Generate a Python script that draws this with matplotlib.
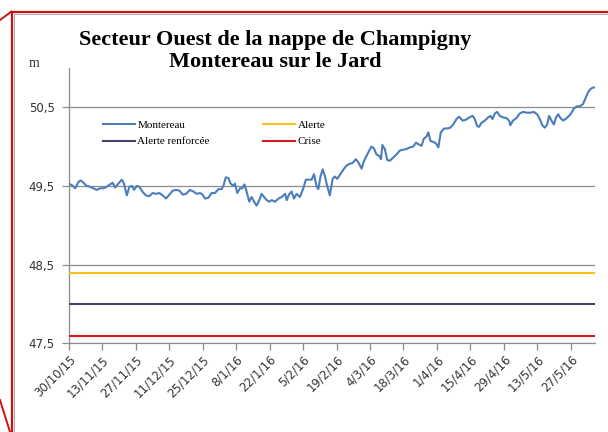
import pandas as pd
import matplotlib
matplotlib.use("Agg")
import matplotlib.pyplot as plt
from matplotlib.lines import Line2D

# niveaux relevés (jours depuis le 30/10/15, m NGF)
date_debut = "2015-10-30"
jours = [0, 1.3, 2.7, 4.1, 5.0, 6.2, 7.5, 8.9, 10.3, 11.7, 13.1, 14.5, 15.9, 17.3, 18.4, 19.4,
         20.8, 22.2, 23.1, 24.3, 25.4, 26.4, 27.3, 28.5, 29.5, 31.0, 32.3, 33.7, 35.1, 36.5,
         37.9, 39.3, 40.7, 42.1, 43.5, 44.9, 46.3, 47.7, 49.1,
         50.7, 52.1, 53.5, 54.9, 56.0, 57.0, 58.4, 59.8, 61.2, 62.6, 64.0, 64.7, 65.7, 66.8,
         67.7, 68.9, 69.5, 70.5, 71.6, 72.6, 73.5, 74.4, 75.5, 76.5, 77.5, 78.6, 79.7, 80.7,
         81.7, 82.8, 83.9, 84.9, 86.3, 87.7, 89.1, 90.5, 91.2, 92.1, 93.2, 94.2, 95.3, 96.7,
         98.1, 99.2, 100.5, 101.6, 102.6, 103.7, 104.4,
         105.3, 106.2, 107.1, 108.1, 109.2, 110.4, 111.3, 112.3, 113.4, 114.5, 115.9, 117.3,
         118.7, 120.1, 121.1, 122.5, 123.4, 124.5, 125.7, 126.6, 127.6, 128.7, 129.9, 130.6,
         131.2, 132.2, 133.2, 134.3, 135.7, 137.1, 138.5, 139.9, 141.3, 142.7, 144.1, 145.2,
         146.2, 147.6, 148.5, 149.7, 150.4, 151.3, 152.5, 153.6, 154.6, 155.6, 157.0, 158.4,
         159.6, 160.8, 162.2, 163.3, 164.7, 166.1, 167.5, 168.9, 169.8, 170.8, 171.6, 172.6,
         174.0, 175.4, 176.4, 177.2, 178.2, 179.2, 180.3, 181.7, 183.1, 184.2, 184.7, 185.8,
         187.2, 188.6, 190.0, 191.7, 193.1, 194.5, 195.9, 197.0, 198.1, 199.1, 200.1, 200.9,
         201.9, 202.9, 203.8, 204.7, 205.7, 206.8, 208.2, 209.6, 210.3, 211.2, 212.4, 213.7,
         215.1, 216.2, 217.2, 218.2, 219.3, 220.2]
montereau = [49.53, 49.51, 49.47, 49.55, 49.57, 49.54, 49.50, 49.49, 49.47, 49.45, 49.47, 49.47,
             49.49, 49.52, 49.54, 49.48, 49.53, 49.58, 49.53, 49.38, 49.49, 49.50, 49.45, 49.50,
             49.49, 49.42, 49.38, 49.37, 49.41, 49.40, 49.41, 49.38, 49.34, 49.39, 49.44, 49.45,
             49.44, 49.39, 49.40,
             49.45, 49.43, 49.40, 49.41, 49.39, 49.34, 49.35, 49.41, 49.41, 49.46, 49.46, 49.50,
             49.61, 49.60, 49.53, 49.50, 49.53, 49.41, 49.47, 49.47, 49.52, 49.43, 49.30, 49.36,
             49.30, 49.25, 49.32, 49.40, 49.36, 49.32, 49.30, 49.32, 49.30, 49.34, 49.36, 49.40,
             49.32, 49.39, 49.43, 49.34, 49.40, 49.36, 49.47, 49.58, 49.58, 49.58, 49.65, 49.49,
             49.46,
             49.62, 49.71, 49.63, 49.50, 49.38, 49.59, 49.62, 49.59, 49.64, 49.69, 49.75, 49.78,
             49.79, 49.84, 49.80, 49.72, 49.81, 49.88, 49.95, 50.00, 49.98, 49.90, 49.88, 49.84,
             50.02, 49.97, 49.83, 49.82, 49.86, 49.90, 49.95, 49.96, 49.97, 49.99, 50.00, 50.05,
             50.03, 50.01, 50.10, 50.13, 50.18, 50.07, 50.06, 50.04, 49.99, 50.18, 50.23, 50.23,
             50.24, 50.28, 50.35, 50.38, 50.33, 50.34, 50.37, 50.39, 50.35, 50.26, 50.25, 50.30,
             50.33, 50.37, 50.39, 50.35, 50.42, 50.44, 50.39, 50.37, 50.36, 50.33, 50.27, 50.33,
             50.36, 50.42, 50.44, 50.43, 50.43, 50.44, 50.41, 50.35, 50.27, 50.24, 50.28, 50.39,
             50.33, 50.28, 50.37, 50.41, 50.36, 50.33, 50.36, 50.40, 50.43, 50.48, 50.51, 50.51,
             50.54, 50.62, 50.69, 50.73, 50.75, 50.75]

seuils = [48.4, 48.0, 47.6]
noms_seuils = ["Alerte", "Alerte renforcée", "Crise"]
couleurs_seuils = ["#F5C21B", "#4B3D70", "#D7191C"]

etiquettes_x = ["30/10/15", "13/11/15", "27/11/15", "11/12/15", "25/12/15", "8/1/16", "22/1/16",
                "5/2/16", "19/2/16", "4/3/16", "18/3/16", "1/4/16", "15/4/16", "29/4/16",
                "13/5/16", "27/5/16"]
ticks_y = [47.5, 48.5, 49.5, 50.5]

dates = pd.Timestamp(date_debut) + pd.to_timedelta(jours, unit="D")
dates_ticks = pd.to_datetime(etiquettes_x, format="%d/%m/%y")

fig = plt.figure(figsize=(6.08, 4.32), dpi=100)
ax = fig.add_axes([0.113, 0.205, 0.866, 0.638])

gris = "#8C8C8C"
for y in ticks_y:
    ax.axhline(y, color=gris, lw=0.9, zorder=1)

ligne_m, = ax.plot(dates, montereau, color="#4A7EBB", lw=1.5, label="Montereau", zorder=4)
lignes = []
for s, nom, c in zip(seuils, noms_seuils, couleurs_seuils):
    l = ax.axhline(s, color=c, lw=1.5, label=nom, zorder=3)
    lignes.append(l)

ax.set_xlim(dates[0], dates[-1])
ax.set_ylim(47.5, 51.0)
ax.set_yticks(ticks_y)
ax.set_yticklabels([f"{v:.1f}".replace(".", ",") for v in ticks_y])
ax.set_xticks(dates_ticks)
ax.set_xticklabels(etiquettes_x, rotation=45, ha="right", rotation_mode="anchor")

for sp in ["top", "right"]:
    ax.spines[sp].set_visible(False)
for sp in ["left", "bottom"]:
    ax.spines[sp].set_color(gris)
    ax.spines[sp].set_linewidth(0.9)
ax.tick_params(axis="both", colors=gris, length=5, width=0.9, direction="out")
ax.tick_params(axis="both", labelcolor="#333333", labelsize=8.5)
ax.tick_params(axis="x", pad=2)
ax.tick_params(axis="y", pad=5)

# légende sur deux colonnes comme dans Excel
handles = [ligne_m, lignes[1], lignes[0], lignes[2]]
leg = ax.legend(handles=handles, labels=[h.get_label() for h in handles], ncol=2,
                loc="upper left", bbox_to_anchor=(0.065, 0.81), frameon=False,
                prop={"family": "Liberation Serif", "size": 8}, handlelength=2.9,
                handletextpad=0.2, columnspacing=4.8, labelspacing=0.6,
                borderpad=0, borderaxespad=0)

fig.text(0.452, 0.93, "Secteur Ouest de la nappe de Champigny\nMontereau sur le Jard",
         ha="center", va="top", family="Liberation Serif", weight="bold", fontsize=16,
         linespacing=1.1, color="black")
fig.text(0.048, 0.845, "m", family="Liberation Serif", fontsize=10, color="#333333")

# cadre rouge et trait de rappel
H = 432.0
W = 608.0
def px(x, y):
    return [v / W for v in x], [1 - v / H for v in y]
xs, ys = px([13.5, 13.5, 608], [432, 13.5, 13.5])
fig.add_artist(Line2D(xs, ys, color="#B0B0B0", lw=0.8))
xs, ys = px([11.5, 11.5, 608], [432, 11.5, 11.5])
fig.add_artist(Line2D(xs, ys, color="#D01010", lw=1.6))
xs, ys = px([0, 11.5], [20, 11.5])
fig.add_artist(Line2D(xs, ys, color="#D01010", lw=1.4))
xs, ys = px([0, 10], [400, 432])
fig.add_artist(Line2D(xs, ys, color="#D01010", lw=1.4))

fig.savefig("out.png", dpi=100)
